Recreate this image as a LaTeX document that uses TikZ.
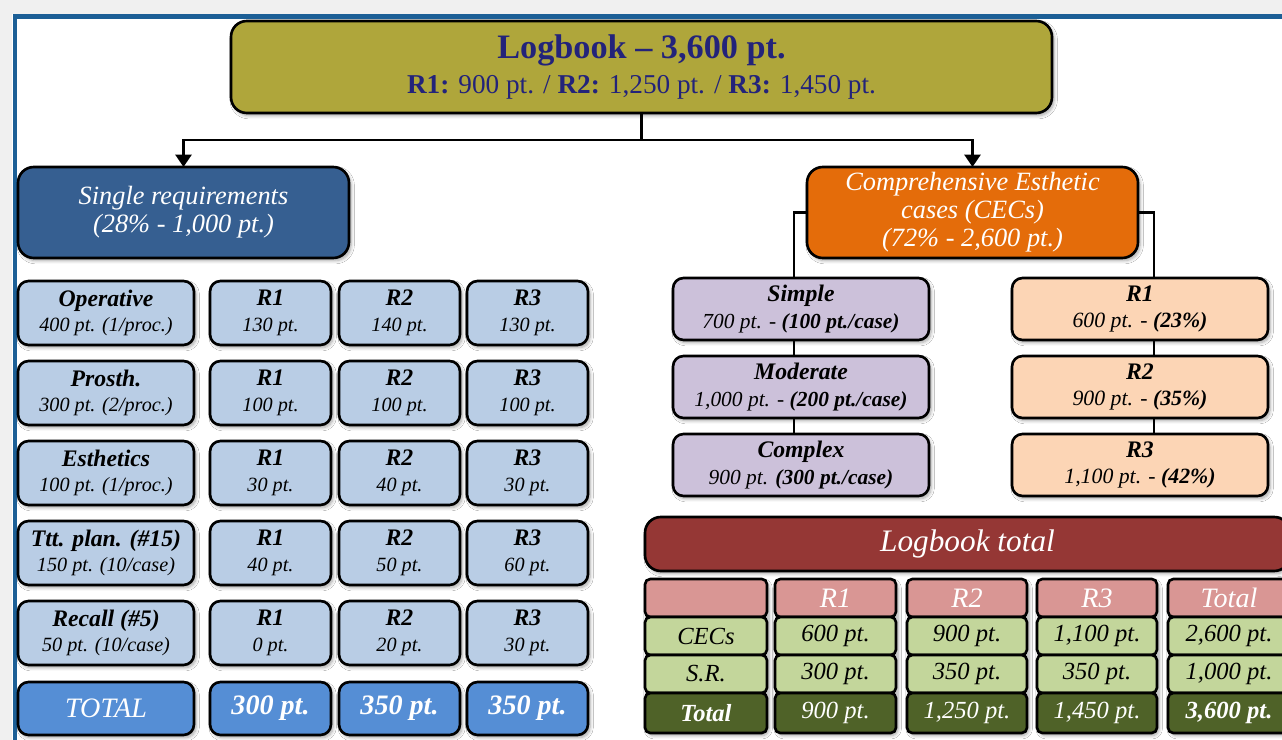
\documentclass[tikz,border=0pt]{standalone}
\usepackage{fontspec}
\setmainfont{Liberation Serif}
\usetikzlibrary{arrows.meta,shadows.blur}

\definecolor{cTitle}{HTML}{AFA63B}
\definecolor{cNavy}{HTML}{23237A}
\definecolor{cFrame}{HTML}{1C5F96}
\definecolor{cSR}{HTML}{365F91}
\definecolor{cCEC}{HTML}{E46C0A}
\definecolor{cLBlue}{HTML}{B9CDE5}
\definecolor{cTotBlue}{HTML}{558ED5}
\definecolor{cPurple}{HTML}{CCC1DA}
\definecolor{cPeach}{HTML}{FCD5B5}
\definecolor{cDRed}{HTML}{953735}
\definecolor{cPink}{HTML}{D99694}
\definecolor{cLGreen}{HTML}{C3D69B}
\definecolor{cDGreen}{HTML}{4F6228}

% node placed by its pixel corners: name, x1, y1, x2, y2, style, text
\newcommand\bx[7]{\node[#6, minimum width={(#4-#2)*0.02cm}, minimum height={(#5-#3)*0.02cm}] (#1) at ({(#2+#4)/2},{(#3+#5)/2}) {#7};}
% two-line cell: bold italic heading and italic value
\newcommand\two[2]{{\fontsize{13.5}{14.5}\selectfont\bfseries #1}\\#2}

\tikzset{
  x=0.02cm, y=-0.02cm,
  shade/.style={blur shadow={shadow xshift=1.2pt, shadow yshift=-1.5pt, shadow blur steps=6, shadow opacity=35}},
  box/.style={draw=black, line width=1.5pt, rounded corners=6pt, align=center,
    inner sep=0pt, outer sep=0pt},
  bigbox/.style={box, shade, rounded corners=9pt},
  sreq/.style={box, shade, fill=cLBlue, font=\fontsize{11.5}{14.5}\selectfont\itshape},
  stot/.style={box, shade, fill=cTotBlue, text=white, font=\fontsize{16}{17}\selectfont\itshape},
  purp/.style={box, shade, fill=cPurple, font=\fontsize{12.2}{15}\selectfont\itshape},
  peach/.style={box, shade, fill=cPeach, font=\fontsize{12.4}{15}\selectfont\itshape},
  hd/.style={box, rounded corners=3pt, fill=cPink, text=white, font=\fontsize{16}{17}\selectfont\itshape},
  lg/.style={box, rounded corners=3pt, fill=cLGreen, font=\fontsize{14}{15}\selectfont\itshape},
  dg/.style={box, rounded corners=3pt, fill=cDGreen, text=white, font=\fontsize{14}{15}\selectfont\itshape},
  link/.style={draw=black, line width=1.6pt},
  arr/.style={link, -{Triangle[width=9pt,length=7pt]}},
}

\begin{document}
\begin{tikzpicture}
\useasboundingbox (0,0) rectangle (1282,740);
\clip (0,0) rectangle (1282,740);
\fill[white] (0,0) rectangle (1282,740);
\fill[black!6] (0,0) rectangle (1282,14);
\fill[black!6] (0,0) rectangle (12,740);
% page frame
\draw[cFrame, line width=2.8pt] (15,760) -- (15,16.5) -- (1300,16.5);

% header
\bx{top}{231}{21}{1052}{113}{bigbox, fill=cTitle, text=cNavy, font=\fontsize{15.5}{20}\selectfont}%
  {{\fontsize{19.5}{20}\selectfont\bfseries Logbook -- 3,600 pt.}\\
   \textbf{R1:} 900 pt. / \textbf{R2:} 1,250 pt. / \textbf{R3:} 1,450 pt.}

\bx{sr}{18}{167}{349}{258}{bigbox, fill=cSR, text=white, font=\fontsize{15}{16}\selectfont\itshape}%
  {Single requirements\\(28\% - 1,000 pt.)}
\bx{cec}{807}{167}{1138}{258}{bigbox, fill=cCEC, text=white, font=\fontsize{15}{16}\selectfont\itshape}%
  {Comprehensive Esthetic\\cases (CECs)\\(72\% - 2,600 pt.)}

\draw[arr] (top.south) -- ++(0,27) -| (sr.north);
\draw[arr] (top.south) -- ++(0,27) -| (cec.north);

% single requirements table
\bx{op}{18}{281}{194}{345}{sreq}{\two{Operative}{400 pt. (1/proc.)}}
\bx{op1}{210}{281}{331}{345}{sreq}{\two{R1}{130 pt.}}
\bx{op2}{339}{281}{460}{345}{sreq}{\two{R2}{140 pt.}}
\bx{op3}{467}{281}{588}{345}{sreq}{\two{R3}{130 pt.}}

\bx{pr}{18}{361}{194}{425}{sreq}{\two{Prosth.}{300 pt. (2/proc.)}}
\bx{pr1}{210}{361}{331}{425}{sreq}{\two{R1}{100 pt.}}
\bx{pr2}{339}{361}{460}{425}{sreq}{\two{R2}{100 pt.}}
\bx{pr3}{467}{361}{588}{425}{sreq}{\two{R3}{100 pt.}}

\bx{es}{18}{441}{194}{505}{sreq}{\two{Esthetics}{100 pt. (1/proc.)}}
\bx{es1}{210}{441}{331}{505}{sreq}{\two{R1}{30 pt.}}
\bx{es2}{339}{441}{460}{505}{sreq}{\two{R2}{40 pt.}}
\bx{es3}{467}{441}{588}{505}{sreq}{\two{R3}{30 pt.}}

\bx{tp}{18}{521}{194}{585}{sreq}{\two{Ttt. plan. (\#15)}{150 pt. (10/case)}}
\bx{tp1}{210}{521}{331}{585}{sreq}{\two{R1}{40 pt.}}
\bx{tp2}{339}{521}{460}{585}{sreq}{\two{R2}{50 pt.}}
\bx{tp3}{467}{521}{588}{585}{sreq}{\two{R3}{60 pt.}}

\bx{rc}{18}{601}{194}{665}{sreq}{\two{Recall (\#5)}{50 pt. (10/case)}}
\bx{rc1}{210}{601}{331}{665}{sreq}{\two{R1}{0 pt.}}
\bx{rc2}{339}{601}{460}{665}{sreq}{\two{R2}{20 pt.}}
\bx{rc3}{467}{601}{588}{665}{sreq}{\two{R3}{30 pt.}}

\bx{tt}{18}{682}{194}{735}{stot}{TOTAL}
\bx{tt1}{210}{682}{331}{735}{stot}{\bfseries 300 pt.}
\bx{tt2}{339}{682}{460}{735}{stot}{\bfseries 350 pt.}
\bx{tt3}{467}{682}{588}{735}{stot}{\bfseries 350 pt.}

% CEC breakdown by complexity
\bx{simple}{673}{278}{929}{340}{purp}{{\fontsize{13.5}{15}\selectfont\bfseries Simple}\\700 pt. - \textbf{(100 pt./case)}}
\bx{moder}{673}{356}{929}{418}{purp}{{\fontsize{13.5}{15}\selectfont\bfseries Moderate}\\1,000 pt. - \textbf{(200 pt./case)}}
\bx{compl}{673}{434}{929}{496}{purp}{{\fontsize{13.5}{15}\selectfont\bfseries Complex}\\900 pt. \textbf{(300 pt./case)}}

% CEC breakdown by year
\bx{cr1}{1012}{278}{1268}{340}{peach}{{\fontsize{13.5}{15}\selectfont\bfseries R1}\\600 pt. - \textbf{(23\%)}}
\bx{cr2}{1012}{356}{1268}{418}{peach}{{\fontsize{13.5}{15}\selectfont\bfseries R2}\\900 pt. - \textbf{(35\%)}}
\bx{cr3}{1012}{434}{1268}{496}{peach}{{\fontsize{13.5}{15}\selectfont\bfseries R3}\\1,100 pt. - \textbf{(42\%)}}

\draw[link] (cec.west) -| ([xshift=-0.14cm]simple.north);
\draw[link] ([xshift=-0.14cm]simple.south) -- ([xshift=-0.14cm]moder.north);
\draw[link] ([xshift=-0.14cm]moder.south) -- ([xshift=-0.14cm]compl.north);
\draw[link] (cec.east) -| ([xshift=0.28cm]cr1.north);
\draw[link] ([xshift=0.28cm]cr1.south) -- ([xshift=0.28cm]cr2.north);
\draw[link] ([xshift=0.28cm]cr2.south) -- ([xshift=0.28cm]cr3.north);

% overall totals
\bx{lbt}{645}{517}{1290}{571}{bigbox, fill=cDRed, text=white, font=\fontsize{17.8}{19}\selectfont\itshape}{Logbook total}

\foreach \xa/\xb in {645/767, 775/896, 907/1027, 1037/1157, 1168/1292}
  \path[shade, rounded corners=4pt, fill=white] (\xa,579) rectangle (\xb,733);

\bx{h0}{645}{579}{767}{617}{hd}{}
\bx{c0}{645}{617}{767}{655}{lg}{CECs}
\bx{s0}{645}{655}{767}{693}{lg}{S.R.}
\bx{t0}{645}{693}{767}{733}{dg}{\bfseries Total}

\bx{h1}{775}{579}{896}{617}{hd}{R1}
\bx{c1}{775}{617}{896}{655}{lg}{600 pt.}
\bx{s1}{775}{655}{896}{693}{lg}{300 pt.}
\bx{t1}{775}{693}{896}{733}{dg}{900 pt.}

\bx{h2}{907}{579}{1027}{617}{hd}{R2}
\bx{c2}{907}{617}{1027}{655}{lg}{900 pt.}
\bx{s2}{907}{655}{1027}{693}{lg}{350 pt.}
\bx{t2}{907}{693}{1027}{733}{dg}{1,250 pt.}

\bx{h3}{1037}{579}{1157}{617}{hd}{R3}
\bx{c3}{1037}{617}{1157}{655}{lg}{1,100 pt.}
\bx{s3}{1037}{655}{1157}{693}{lg}{350 pt.}
\bx{t3}{1037}{693}{1157}{733}{dg}{1,450 pt.}

\bx{h4}{1168}{579}{1290}{617}{hd}{Total}
\bx{c4}{1168}{617}{1290}{655}{lg}{2,600 pt.}
\bx{s4}{1168}{655}{1290}{693}{lg}{1,000 pt.}
\bx{t4}{1168}{693}{1290}{733}{dg}{\bfseries 3,600 pt.}
\end{tikzpicture}
\end{document}
